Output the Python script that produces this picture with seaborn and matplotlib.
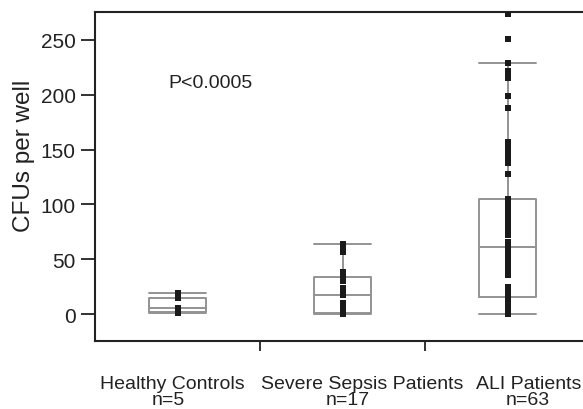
import matplotlib
matplotlib.use("Agg")
import matplotlib.pyplot as plt
import seaborn as sns
import pandas as pd
import numpy as np

categories = ["Healthy Controls", "Severe Sepsis Patients", "ALI Patients"]
n_labels = ["n=5", "n=17", "n=63"]

healthy = [1, 2, 5.5, 14.5, 19]
sepsis = [0, 0, 0, 1, 1, 2, 5, 10, 17, 20, 24, 30, 34, 38, 57, 60, 64]
ali = [0, 1, 1, 2, 3, 3, 4, 5, 6, 7, 8, 9, 10, 12, 13,
       15, 16, 17, 18, 20, 22, 25, 36, 38, 41, 44, 47, 50, 53, 56, 59,
       61,
       63, 66, 72, 76, 80, 84, 87, 90, 93, 95, 97, 99, 101, 103, 104,
       105, 128, 138, 142, 147, 151, 154, 157, 188, 199, 215, 218, 222, 229, 251, 274]

yticks = [0, 50, 100, 150, 200, 250]
annotation = "P<0.0005"

df = pd.DataFrame({
    "group": [categories[0]] * len(healthy) + [categories[1]] * len(sepsis) + [categories[2]] * len(ali),
    "cfu": healthy + sepsis + ali,
})

sns.set_style("white")
plt.rcParams["font.family"] = ["Liberation Sans", "DejaVu Sans"]

W, H = 583, 410
fig = plt.figure(figsize=(W / 100, H / 100), dpi=100)
ax = fig.add_axes([95 / W, 1 - 342 / H, 495 / W, (342 - 13) / H])

box_color = "#939393"
text_color = "#222222"
sns.boxplot(data=df, x="group", y="cfu", order=categories, ax=ax, width=0.34,
            fill=False, color=box_color, linecolor=box_color, linewidth=1.4,
            showfliers=False, whis=1.5, capwidths=0.34)
sns.stripplot(data=df, x="group", y="cfu", order=categories, ax=ax, jitter=False,
              marker="s", size=5, color="#1a1a1a", linewidth=0, zorder=5)

ax.set_xlim(-0.5, 2.5)
ax.set_ylim(-24.6, 275.5)
ax.set_yticks(yticks)
ax.set_yticklabels([str(v) for v in yticks], fontsize=15, color=text_color)
ax.set_xticks([0.5, 1.5])
ax.set_xticklabels([])
ax.tick_params(axis="x", length=7, width=1.3, color=text_color, direction="out", bottom=True)
ax.tick_params(axis="y", length=10, width=1.3, color=text_color, direction="out", left=True, pad=4)
ax.set_xlabel("")
ax.set_ylabel("")

# category labels (reference places them slightly off the box centres)
name_px = [172, 362, 529]
count_px = [168, 348, 528]
for c, n, xp, xc in zip(categories, n_labels, name_px, count_px):
    fig.text(xp / W, 1 - 389 / H, c, fontsize=14, color=text_color, ha="center", va="baseline")
    fig.text(xc / W, 1 - 405 / H, n, fontsize=14, color=text_color, ha="center", va="baseline")

fig.text(24 / W, 1 - 156 / H, "CFUs per well", fontsize=17.5, color=text_color,
         rotation=90, ha="center", va="center")

for side in ["left", "bottom", "top", "right"]:
    ax.spines[side].set_visible(True)
    ax.spines[side].set_color(text_color)
    ax.spines[side].set_linewidth(1.5)

ax.text(0.2, 211, annotation, fontsize=14, color=text_color, ha="center", va="center")

fig.savefig("out.png", dpi=100)
